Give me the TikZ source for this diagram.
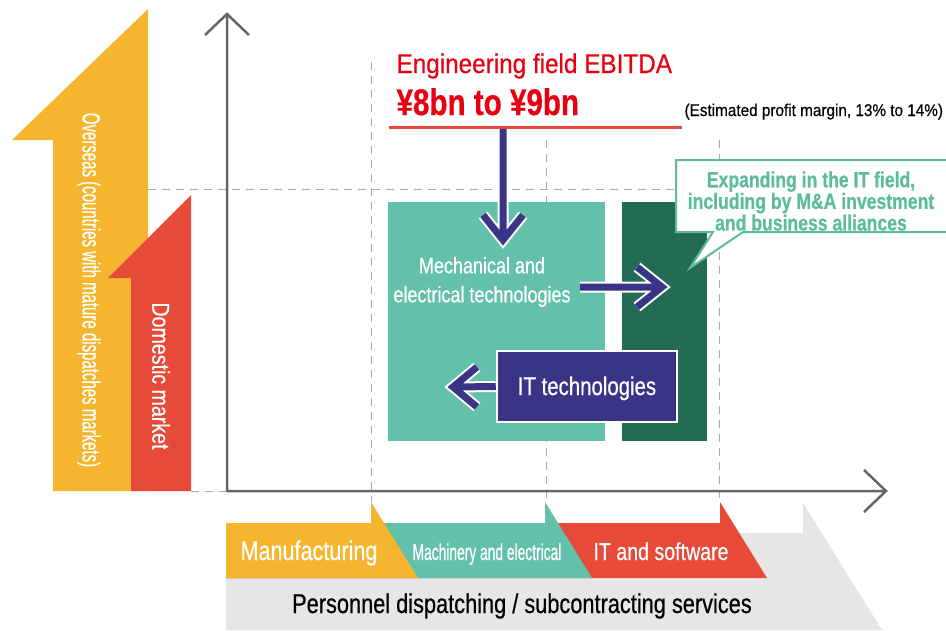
\documentclass[tikz,border=0pt]{standalone}
\usepackage{fontspec}
\setmainfont{Liberation Sans}[FakeStretch=0.8,FakeBold=0.5]
\newfontfamily\narrowfont{Liberation Sans}[FakeStretch=0.6,FakeBold=0.5]
\newfontfamily\widefont{Liberation Sans}[FakeStretch=0.9,FakeBold=0.5]
\usetikzlibrary{calc,positioning}
\definecolor{sunyellow}{HTML}{F6B52F}
\definecolor{marketred}{HTML}{E84A3A}
\definecolor{techteal}{HTML}{63C0AB}
\definecolor{deepgreen}{HTML}{246B55}
\definecolor{techpurple}{HTML}{3A3487}
\definecolor{bandgray}{HTML}{E6E6E6}
\definecolor{axisgray}{HTML}{666666}
\definecolor{guidegray}{HTML}{AAAAAA}
\definecolor{titlered}{HTML}{E60012}
\definecolor{calloutteal}{HTML}{5DBB9F}

\begin{document}
\begin{tikzpicture}[x=1pt,y=-1pt,
  guide/.style={draw=guidegray,line width=1pt,dash pattern=on 8pt off 6pt},
  axis/.style={draw=axisgray,line width=2.5pt,line join=miter},
  flowedge/.style={draw=white,line width=11pt,line join=miter},
  flowline/.style={draw=techpurple,line width=7pt,line join=miter},
  tag/.style={text=white,anchor=base,font=\fontsize{24.5}{28}\selectfont}]
  \useasboundingbox (0,0) rectangle (946,630);

  % Guide lines
  \coordinate (O) at (227,491);
  \draw[guide] (148,189) -- (676,189);
  \draw[guide] (191,491) -- (O);
  \foreach \x/\top in {371/62,546/140,719/140}
    \draw[guide] (\x,\top) -- (\x,502);

  % Axes
  \coordinate (ytip) at (227,14);
  \coordinate (xtip) at (886,491);
  \draw[axis] (O) -- (ytip) ($(ytip)+(-22,21)$) -- (ytip) -- ($(ytip)+(22,21)$);
  \draw[axis] (O) -- (xtip) ($(xtip)+(-22,-21)$) -- (xtip) -- ($(xtip)+(-22,21)$);

  % Market arrows
  \fill[sunyellow] (148,9) -- (12,140) -- (53,140) -- (53,491) -- (148,491) -- cycle;
  \fill[marketred] (191,195) -- (108,278) -- (131,278) -- (131,491) -- (191,491) -- cycle;
  \node[rotate=-90,text=white,font=\narrowfont\fontsize{25}{30}\selectfont] (overseas) at (89,290)
    {Overseas (countries with mature dispatches markets)};
  \node[rotate=-90,text=white,font=\fontsize{24.5}{30}\selectfont] (domestic) at (161,376) {Domestic market};

  % Service band
  \fill[bandgray] (226,533) -- (803,533) -- (803,503) -- (882,630) -- (226,630) -- cycle;
  \foreach \x/\col in {720/marketred,545/techteal,371/sunyellow}
    \fill[\col] (226,523) -- (\x,523) -- (\x,502) -- (\x+47,578) -- (226,578) -- cycle;
  \node[tag,font=\fontsize{27}{30}\selectfont] (manuf) at (309,560) {Manufacturing};
  \node[tag,font=\narrowfont\fontsize{23}{28}\selectfont] (machinery) at (487,560) {Machinery and electrical};
  \node[tag] (itsoft) at (661,560) {IT and software};
  \node[anchor=base,font=\fontsize{27.2}{30}\selectfont] (dispatch) at (522,613)
    {Personnel dispatching / subcontracting services};

  % Headline
  \node[anchor=base west,text=titlered,font=\widefont\fontsize{27}{32}\selectfont] (title) at (393,73)
    {Engineering field EBITDA};
  \node[anchor=base west,text=titlered,font=\bfseries\fontsize{37}{44}\selectfont] (ebitda) at (393,115)
    {¥8bn to ¥9bn};
  \node[anchor=base west,font=\widefont\fontsize{17}{20}\selectfont] (margin) at (681,116)
    {(Estimated profit margin, 13\% to 14\%)};
  \coordinate (ruleL) at (389,127);
  \coordinate (ruleR) at (682,127);
  \draw[marketred,line width=3pt] (ruleL) -- (ruleR);

  % Technology blocks
  \node[fill=techteal,minimum width=217,minimum height=239,inner sep=0] (mech) at (496.5,321.5) {};
  \node[fill=deepgreen,minimum width=85,minimum height=239,inner sep=0] (itfield) at (664.5,321.5) {};
  \node[text=white,align=center,font=\fontsize{22.5}{29}\selectfont] (mechtext) at (482,282)
    {Mechanical and\\electrical technologies};
  \node[fill=techpurple,draw=white,line width=2.5pt,minimum width=180,minimum height=71,
    text height=17pt,text depth=0pt,text=white,font=\fontsize{25.5}{30}\selectfont] (ittech) at (587,386.5)
    {IT technologies};

  % Flow arrows
  \coordinate (downtail) at (503,129);
  \coordinate (downtip) at (503,240);
  \coordinate (righttail) at (580,287);
  \coordinate (righttip) at (662,287);
  \coordinate (lefttip) at (453,387);
  \foreach \pass in {flowedge,flowline}{
    \draw[\pass] (downtail) -- (downtip)
      ($(downtip)+(-20,-25)$) -- (downtip) -- ($(downtip)+(20,-25)$);
    \draw[\pass] (righttail) -- (righttip)
      ($(righttip)+(-25,-20)$) -- (righttip) -- ($(righttip)+(-25,20)$);
    \draw[\pass] (ittech.west) -- (lefttip)
      ($(lefttip)+(24,-20)$) -- (lefttip) -- ($(lefttip)+(24,20)$);
  }

  % Callout
  \draw[calloutteal,line width=2pt,fill=white] (676,160) -- (950,160) -- (950,232) -- (743,232)
    -- (690,268) -- (713,232) -- (676,232) -- cycle;
  \node[text=calloutteal,align=center,font=\bfseries\fontsize{22}{20.5}\selectfont] (callout) at (811,201)
    {Expanding in the IT field,\\including by M\&A investment\\and business alliances};
\end{tikzpicture}
\end{document}
